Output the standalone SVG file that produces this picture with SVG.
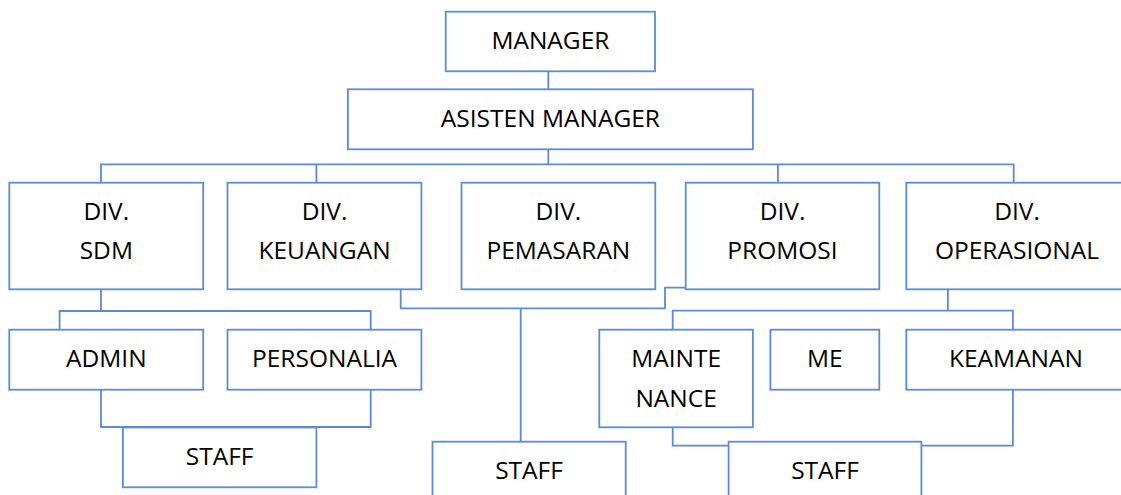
<svg xmlns="http://www.w3.org/2000/svg" width="1121" height="495" viewBox="0 0 1121 495">
<style>
.box{fill:#fff;stroke:#5b8cd5;stroke-width:1.8}
.ln{fill:none;stroke:#5b8cd5;stroke-width:1.8}
text{font-family:"Open Sans","Liberation Sans",sans-serif;font-size:24.5px;fill:#000;text-anchor:middle}
</style>
<rect width="1121" height="495" fill="#fff"/>
<g id="connectors">
<path class="ln" d="M548.3 71.3V89.3"/>
<path class="ln" d="M548.3 149.3V164.3M101 182.7V164.3H1013.7V182.7M316.4 164.3V182.7M777.9 164.3V182.7"/>
<path class="ln" d="M101 289.3V311M59.6 329.7V311H370.7V329.7"/>
<path class="ln" d="M101 389.7V427H370.7V389.7"/>
<path class="ln" d="M400.7 289.3V308.3H665V287.7H686M520.7 308.3V441.7"/>
<path class="ln" d="M947.9 289.3V310.7M672.7 329.7V310.7H1012.9V329.7"/>
<path class="ln" d="M672.7 427.3V445.7H1012.9V389.7"/>
</g>
<g id="manager"><rect class="box" x="445.7" y="11.7" width="209.3" height="59.6"/><text x="550.4" y="49.3">MANAGER</text></g>
<g id="asisten"><rect class="box" x="347.9" y="89.3" width="405" height="60"/><text x="550.4" y="127">ASISTEN MANAGER</text></g>
<g id="div-sdm"><rect class="box" x="9.3" y="182.7" width="193.9" height="106.6"/><text x="106.3" y="220">DIV.</text><text x="106.3" y="259.3">SDM</text></g>
<g id="div-keuangan"><rect class="box" x="227.5" y="182.7" width="193.9" height="106.6"/><text x="324.5" y="220">DIV.</text><text x="324.5" y="259.3">KEUANGAN</text></g>
<g id="div-pemasaran"><rect class="box" x="461.5" y="182.7" width="193.8" height="106.6"/><text x="558.4" y="220">DIV.</text><text x="558.4" y="259.3">PEMASARAN</text></g>
<g id="div-promosi"><rect class="box" x="685.7" y="182.7" width="193.6" height="106.6"/><text x="782.5" y="220">DIV.</text><text x="782.5" y="259.3">PROMOSI</text></g>
<g id="div-operasional"><rect class="box" x="906.3" y="182.7" width="222" height="106.6"/><text x="1017" y="220">DIV.</text><text x="1017" y="259.3">OPERASIONAL</text></g>
<g id="admin"><rect class="box" x="9.3" y="329.7" width="193.9" height="60"/><text x="106.3" y="367.3">ADMIN</text></g>
<g id="personalia"><rect class="box" x="227.5" y="329.7" width="193.9" height="60"/><text x="324.5" y="367.3">PERSONALIA</text></g>
<g id="staff-sdm"><rect class="box" x="122.9" y="427.5" width="193.5" height="59.8"/><text x="219.6" y="465">STAFF</text></g>
<g id="staff-mid"><rect class="box" x="432.5" y="441.7" width="193.2" height="70"/><text x="529" y="479.3">STAFF</text></g>
<g id="maintenance"><rect class="box" x="599.3" y="329.7" width="153.6" height="97.6"/><text x="676.1" y="367.3">MAINTE</text><text x="676.1" y="406.7">NANCE</text></g>
<g id="me"><rect class="box" x="770.4" y="329.7" width="108.9" height="60"/><text x="824.9" y="367.3">ME</text></g>
<g id="keamanan"><rect class="box" x="906.3" y="329.7" width="222" height="60"/><text x="1016" y="367.3">KEAMANAN</text></g>
<g id="staff-ops"><rect class="box" x="728.6" y="441.7" width="192.8" height="70"/><text x="825" y="479.3">STAFF</text></g>
</svg>
